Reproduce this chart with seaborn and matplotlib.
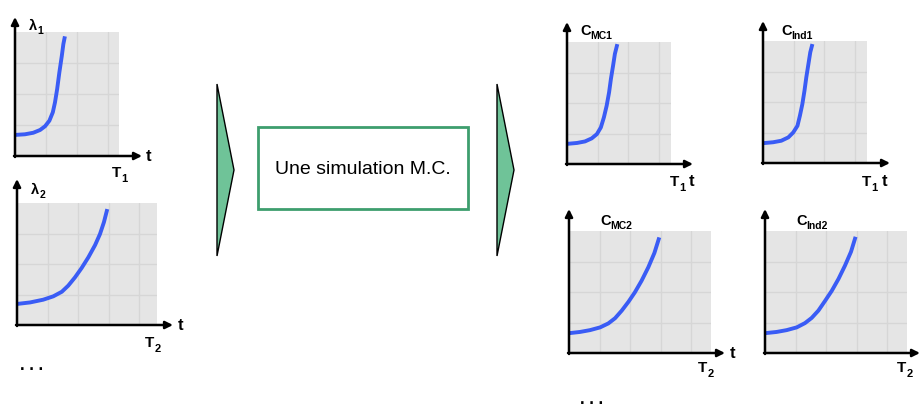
import numpy as np
import matplotlib; matplotlib.use("Agg")
import matplotlib.pyplot as plt
import seaborn as sns
from matplotlib.patches import Polygon, Rectangle

sns.set_style("white")
plt.rcParams['font.family'] = ['Liberation Sans', 'DejaVu Sans']

# curves, in grid-cell units (one cell = one grid square)
lam1_x = [0, 0.32, 0.59, 0.81, 0.97, 1.11, 1.22, 1.29, 1.36, 1.43, 1.51, 1.56, 1.61]
lam1_y = [0.68, 0.70, 0.75, 0.84, 0.96, 1.14, 1.41, 1.73, 2.16, 2.69, 3.23, 3.61, 3.86]
lam2_x = [0, 0.43, 0.86, 1.19, 1.47, 1.68, 1.90, 2.12, 2.34, 2.56, 2.72, 2.85, 2.96]
lam2_y = [0.69, 0.74, 0.83, 0.94, 1.09, 1.29, 1.56, 1.87, 2.22, 2.62, 2.98, 3.37, 3.80]
mc1_x = [0, 0.33, 0.59, 0.81, 0.98, 1.11, 1.21, 1.30, 1.38, 1.44, 1.51, 1.57, 1.65]
mc1_y = [0.66, 0.69, 0.74, 0.84, 0.98, 1.20, 1.53, 1.91, 2.35, 2.79, 3.22, 3.61, 3.93]
ind1_x = [0, 0.33, 0.60, 0.83, 0.99, 1.13, 1.21, 1.29, 1.36, 1.42, 1.49, 1.55, 1.62]
ind1_y = [0.65, 0.68, 0.73, 0.84, 1.00, 1.22, 1.55, 1.93, 2.37, 2.81, 3.25, 3.63, 3.90]
mc2_x = [0, 0.36, 0.69, 1.02, 1.29, 1.51, 1.73, 1.95, 2.16, 2.38, 2.60, 2.80, 2.96]
mc2_y = [0.65, 0.69, 0.75, 0.84, 0.97, 1.14, 1.39, 1.68, 1.99, 2.37, 2.81, 3.28, 3.79]
ind2_x = [0, 0.38, 0.71, 1.04, 1.31, 1.53, 1.75, 1.97, 2.19, 2.41, 2.62, 2.82, 2.97]
ind2_y = [0.65, 0.69, 0.75, 0.84, 0.98, 1.15, 1.39, 1.71, 2.04, 2.43, 2.86, 3.32, 3.81]

CURVES = {"lam1": (lam1_x, lam1_y), "lam2": (lam2_x, lam2_y),
          "mc1": (mc1_x, mc1_y), "ind1": (ind1_x, ind1_y),
          "mc2": (mc2_x, mc2_y), "ind2": (ind2_x, ind2_y)}

# y-axis labels (letter + subscript) and time labels
Y_LABELS = {"lam1": ("λ", "1"), "lam2": ("λ", "2"), "mc1": ("C", "MC1"),
            "ind1": ("C", "Ind1"), "mc2": ("C", "MC2"), "ind2": ("C", "Ind2")}
T_LABELS = {"lam1": "1", "lam2": "2", "mc1": "1", "ind1": "1", "mc2": "2", "ind2": "2"}
BOX_TEXT = "Une simulation M.C."

W, H = 923, 410
BLUE = "#3a5cf5"
GRAY = "#e5e5e5"
GRIDC = "#d6d6d6"
GREEN = "#6fc398"
BOXC = "#3d9e6e"

# layout in pixels: origin, cell size, width in cells, arrow tips, label positions
PANELS = {
    "lam1": dict(ox=15, oy=157, cell=31, nx=3.35, ytip=18, xtip=142,
                 ylab=(29, 30), tlab=(112, 177), tt=(146, 157, "center")),
    "lam2": dict(ox=17, oy=326, cell=30.5, nx=4.6, ytip=180, xtip=173,
                 ylab=(31, 194), tlab=(145, 347), tt=(178, 326, "center")),
    "mc1": dict(ox=567, oy=165, cell=30.5, nx=3.4, ytip=23, xtip=693,
                ylab=(580, 35), tlab=(670, 186), tt=(689, 186, "baseline")),
    "ind1": dict(ox=763, oy=164, cell=30.5, nx=3.4, ytip=22, xtip=890,
                 ylab=(781, 35), tlab=(862, 186), tt=(882, 186, "baseline")),
    "mc2": dict(ox=569, oy=354, cell=30.5, nx=4.66, ytip=210, xtip=725,
                ylab=(600, 225), tlab=(698, 372), tt=(730, 354, "center")),
    "ind2": dict(ox=765, oy=354, cell=30.5, nx=4.66, ytip=210, xtip=920,
                 ylab=(796, 225), tlab=(897, 372), tt=None),
}
NY = 4.0

fig = plt.figure(figsize=(W / 100, H / 100), dpi=100)

for name, p in PANELS.items():
    w, h = p["nx"] * p["cell"], NY * p["cell"]
    ax = fig.add_axes([p["ox"] / W, 1 - p["oy"] / H, w / W, h / H])
    ax.set_facecolor(GRAY)
    xs, ys = CURVES[name]
    sns.lineplot(x=xs, y=ys, ax=ax, color=BLUE, lw=2.8, solid_capstyle="butt")
    ax.set_xlim(0, p["nx"]); ax.set_ylim(0, NY)
    ax.set_xticks(np.arange(1, p["nx"])); ax.set_yticks(np.arange(1, NY))
    ax.grid(True, color=GRIDC, lw=1)
    ax.tick_params(length=0, labelbottom=False, labelleft=False)
    for s in ax.spines.values():
        s.set_visible(False)

# overlay in pixel coordinates for arrows, shapes and text
ov = fig.add_axes([0, 0, 1, 1])
ov.set_xlim(0, W); ov.set_ylim(H, 0); ov.axis("off"); ov.patch.set_alpha(0)

arr = dict(arrowstyle="-|>", color="black", lw=1.8, mutation_scale=11, shrinkA=0, shrinkB=0)
lab = dict(fontweight="bold", color="black")

for name, p in PANELS.items():
    ov.annotate("", xy=(p["ox"], p["ytip"]), xytext=(p["ox"], p["oy"] + 1), arrowprops=arr)
    ov.annotate("", xy=(p["xtip"], p["oy"]), xytext=(p["ox"] - 1, p["oy"]), arrowprops=arr)
    main, sub = Y_LABELS[name]
    t = ov.text(*p["ylab"], main, fontsize=10.5, va="baseline", ha="left", **lab)
    ov.annotate(sub, xy=(1, 0), xycoords=t, xytext=(0, -2), textcoords="offset points",
                fontsize=7.5, va="bottom", ha="left", **lab)
    t = ov.text(*p["tlab"], "T", fontsize=11, va="baseline", ha="left", **lab)
    ov.annotate(T_LABELS[name], xy=(1, 0), xycoords=t, xytext=(0, -3), textcoords="offset points",
                fontsize=8, va="bottom", ha="left", **lab)
    if p["tt"] is not None:
        tx, ty, tva = p["tt"]
        ov.text(tx, ty, "t", fontsize=12, va=tva, ha="left", **lab)

# green chevrons
for x0 in (217, 497):
    ov.add_patch(Polygon([(x0, 85), (x0 + 17, 171), (x0, 257)], closed=True,
                         facecolor=GREEN, edgecolor="black", lw=1))

# box
ov.add_patch(Rectangle((258, 128), 210, 82, facecolor="white", edgecolor=BOXC, lw=2))
ov.text(363, 170, BOX_TEXT, fontsize=14, ha="center", va="center", color="black")

# ellipsis marks
ov.text(32, 366, ". . .", fontsize=12, ha="center", va="center", **lab)
ov.text(592, 404, ". . .", fontsize=12, ha="center", va="baseline", **lab)

fig.savefig("out.png", dpi=100)
